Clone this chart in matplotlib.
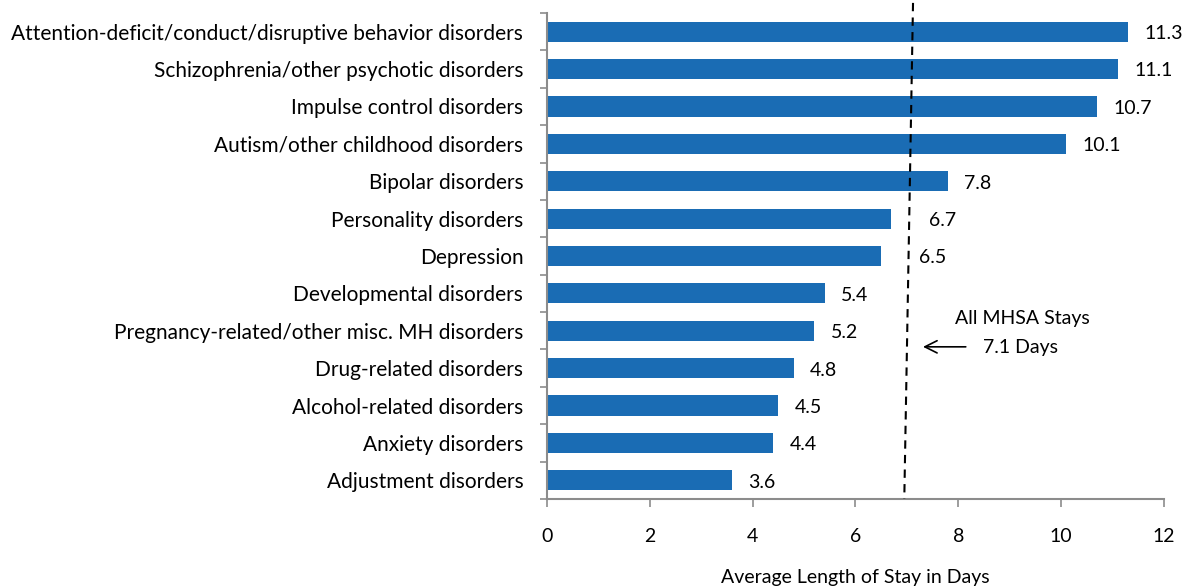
import numpy as np
import matplotlib.pyplot as plt

plt.rcParams['font.family'] = ['Lato', 'DejaVu Sans']

categories = ['Attention-deficit/conduct/disruptive behavior disorders',
              'Schizophrenia/other psychotic disorders',
              'Impulse control disorders',
              'Autism/other childhood disorders',
              'Bipolar disorders',
              'Personality disorders',
              'Depression',
              'Developmental disorders',
              'Pregnancy-related/other misc. MH disorders',
              'Drug-related disorders',
              'Alcohol-related disorders',
              'Anxiety disorders',
              'Adjustment disorders']
values = [11.3, 11.1, 10.7, 10.1, 7.8, 6.7, 6.5, 5.4, 5.2, 4.8, 4.5, 4.4, 3.6]
all_stays = 7.1
xticks = [0, 2, 4, 6, 8, 10, 12]

blue = '#1a6cb4'
gray = '#8c8c8c'

fig = plt.figure(figsize=(11.95, 5.88), dpi=100)
ax = fig.add_axes([0.4577, 0.1514, 0.5163, 0.8265])

y = np.arange(len(categories))
ax.barh(y, values, height=0.54, color=blue, zorder=2)
for yi, v in zip(y, values):
    # push labels past the dashed line when they would touch it
    off = 0.74 if v < all_stays - 0.05 < v + 0.9 else 0.32
    ax.text(v + off, yi + 0.05, '%.1f' % v, va='center', ha='left', fontsize=14)

ax.set_ylim(len(categories) - 0.5, -0.5)
ax.set_xlim(0, 12)
ax.set_xticks(xticks)
ax.set_xticklabels([str(t) for t in xticks], fontsize=14)
ax.set_yticks(y)
ax.set_yticklabels(categories, fontsize=15)
ax.set_yticks(np.arange(len(categories) + 1) - 0.5, minor=True)
ax.tick_params(axis='y', which='major', length=0, pad=17)
ax.tick_params(axis='y', which='minor', length=5, color=gray, width=1.2)
ax.tick_params(axis='x', length=6, color=gray, width=1.2, pad=15)
ax.set_xlabel('Average Length of Stay in Days', fontsize=14, labelpad=17)

for s in ['top', 'right']:
    ax.spines[s].set_visible(False)
for s in ['left', 'bottom']:
    ax.spines[s].set_color(gray)
    ax.spines[s].set_linewidth(1.5)

# dashed reference line (slightly slanted as in the original)
ax.plot([7.12, 6.95], [-0.77, len(categories) - 0.5], color='black',
        linestyle=(0, (4, 3)), linewidth=1.5, clip_on=False, zorder=3)

ax.annotate('', xy=(7.26, 8.43), xytext=(8.2, 8.43),
            arrowprops=dict(arrowstyle='->', color='black', lw=1.2, mutation_scale=22))
ax.text(9.25, 7.68, 'All MHSA Stays', ha='center', va='center', fontsize=14)
ax.text(9.22, 8.45, '%.1f Days' % all_stays, ha='center', va='center', fontsize=14)

fig.savefig('out.png', dpi=100)
